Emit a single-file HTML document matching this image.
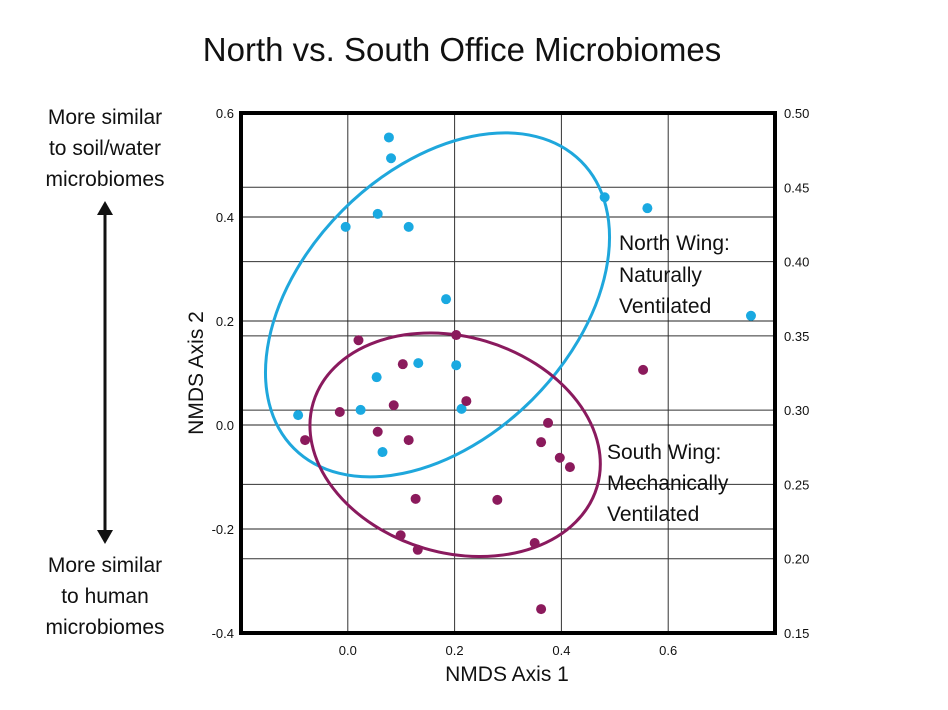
<!DOCTYPE html>
<html><head><meta charset="utf-8"><style>
body{margin:0;background:#fff;}
svg{display:block;font-family:"Liberation Sans",sans-serif;}
</style></head><body>
<svg width="948" height="710" viewBox="0 0 948 710">
<text x="462" y="61" font-size="33" text-anchor="middle" fill="#111">North vs. South Office Microbiomes</text>
<g font-size="21" fill="#111" text-anchor="middle">
<text x="105" y="124">More similar</text>
<text x="105" y="155">to soil/water</text>
<text x="105" y="186">microbiomes</text>
<text x="105" y="572">More similar</text>
<text x="105" y="603">to human</text>
<text x="105" y="634">microbiomes</text>
</g>
<g>
<line x1="105" y1="210" x2="105" y2="535" stroke="#111" stroke-width="3"/>
<polygon points="97,215 105,201 113,215" fill="#111"/>
<polygon points="97,530 105,544 113,530" fill="#111"/>
</g>
<g id="grid"></g>
<g id="ellipses"></g>
<g id="points"></g>
<rect x="241" y="113" width="534" height="520" fill="none" stroke="#000" stroke-width="4"/>
<g id="ticks" font-size="13" fill="#111"></g>
<text x="507" y="681" font-size="21" text-anchor="middle" fill="#111">NMDS Axis 1</text>
<text transform="translate(203,373) rotate(-90)" font-size="21" text-anchor="middle" fill="#111">NMDS Axis 2</text>
<g font-size="21" fill="#111">
<text x="619" y="250">North Wing:</text><text x="619" y="282">Naturally</text><text x="619" y="313">Ventilated</text>
</g>
<g font-size="21" fill="#111">
<text x="607" y="459">South Wing:</text><text x="607" y="490">Mechanically</text><text x="607" y="521">Ventilated</text>
</g>
</svg>
<script>
const xTicks=[0.0,0.2,0.4,0.6];
const xTickLabels=["0.0","0.2","0.4","0.6"];
const yTicks=[0.6,0.4,0.2,0.0,-0.2,-0.4];
const yTickLabels=["0.6","0.4","0.2","0.0","-0.2","-0.4"];
const y2Ticks=[0.50,0.45,0.40,0.35,0.30,0.25,0.20,0.15];
const y2TickLabels=["0.50","0.45","0.40","0.35","0.30","0.25","0.20","0.15"];
const northX=[0.077,0.081,0.481,0.561,0.056,-0.004,0.114,0.184,0.755,0.132,0.203,0.054,-0.093,0.024,0.213,0.065];
const northY=[0.553,0.513,0.438,0.417,0.406,0.381,0.381,0.242,0.210,0.119,0.115,0.092,0.019,0.029,0.031,-0.052];
const southX=[0.020,0.203,0.103,0.553,0.086,-0.015,0.222,-0.080,0.056,0.114,0.375,0.362,0.397,0.416,0.127,0.280,0.099,0.131,0.350,0.362];
const southY=[0.163,0.173,0.117,0.106,0.038,0.025,0.046,-0.029,-0.013,-0.029,0.004,-0.033,-0.063,-0.081,-0.142,-0.144,-0.212,-0.240,-0.227,-0.354];
const ellCenterX=[0.168,0.201];
const ellCenterY=[0.231,-0.038];
const ellColors=["#1fa7dc","#8a1a5e"];
const NS="http://www.w3.org/2000/svg";
const X0=241,X1=775,Y0=113,Y1=633;
const xs=v=>X0+(v+0.2)/1.0*(X1-X0);
const ys=v=>Y1-(v+0.4)/1.0*(Y1-Y0);
const y2s=v=>Y1-(v-0.15)/0.35*(Y1-Y0);
function mk(t,a,p){const e=document.createElementNS(NS,t);for(const k in a)e.setAttribute(k,a[k]);p.appendChild(e);return e;}
const grid=document.getElementById('grid'),ticks=document.getElementById('ticks');
xTicks.forEach((v,i)=>{
 const l=mk('line',{x1:xs(v),x2:xs(v),y1:Y0,y2:Y1,stroke:'#333','stroke-width':1},grid);
 
 
 const t=mk('text',{x:xs(v),y:655,'text-anchor':'middle'},ticks);t.textContent=xTickLabels[i];
 
 
});
yTicks.forEach((v,i)=>{
 const l=mk('line',{x1:X0,x2:X1,y1:ys(v),y2:ys(v),stroke:'#222','stroke-width':1},grid);
 
 
 const t=mk('text',{x:234,y:ys(v)+5,'text-anchor':'end'},ticks);t.textContent=yTickLabels[i];
 
 
});
y2Ticks.forEach((v,i)=>{
 const l=mk('line',{x1:X0,x2:X1,y1:y2s(v),y2:y2s(v),stroke:'#333','stroke-width':1},grid);
 
 
 const t=mk('text',{x:784,y:y2s(v)+5,'text-anchor':'start'},ticks);t.textContent=y2TickLabels[i];
 
 
});
const eg=document.getElementById('ellipses');
const ellShape=[[203,134,-45],[148,108,16.5]];
ellCenterX.forEach((cx,i)=>{
 const px=xs(cx),py=ys(ellCenterY[i]);
 const e=mk('ellipse',{cx:px,cy:py,rx:ellShape[i][0],ry:ellShape[i][1],transform:`rotate(${ellShape[i][2]} ${px} ${py})`,fill:'none',stroke:ellColors[i],'stroke-width':3},eg);
 
 
});
const pg=document.getElementById('points');
northX.forEach((x,i)=>{
 const c=mk('circle',{cx:xs(x),cy:ys(northY[i]),r:5,fill:'#1aa9e1'},pg);
 
 
});
southX.forEach((x,i)=>{
 const c=mk('circle',{cx:xs(x),cy:ys(southY[i]),r:5,fill:'#8b1a5c'},pg);
 
 
});
</script>
</body></html>
